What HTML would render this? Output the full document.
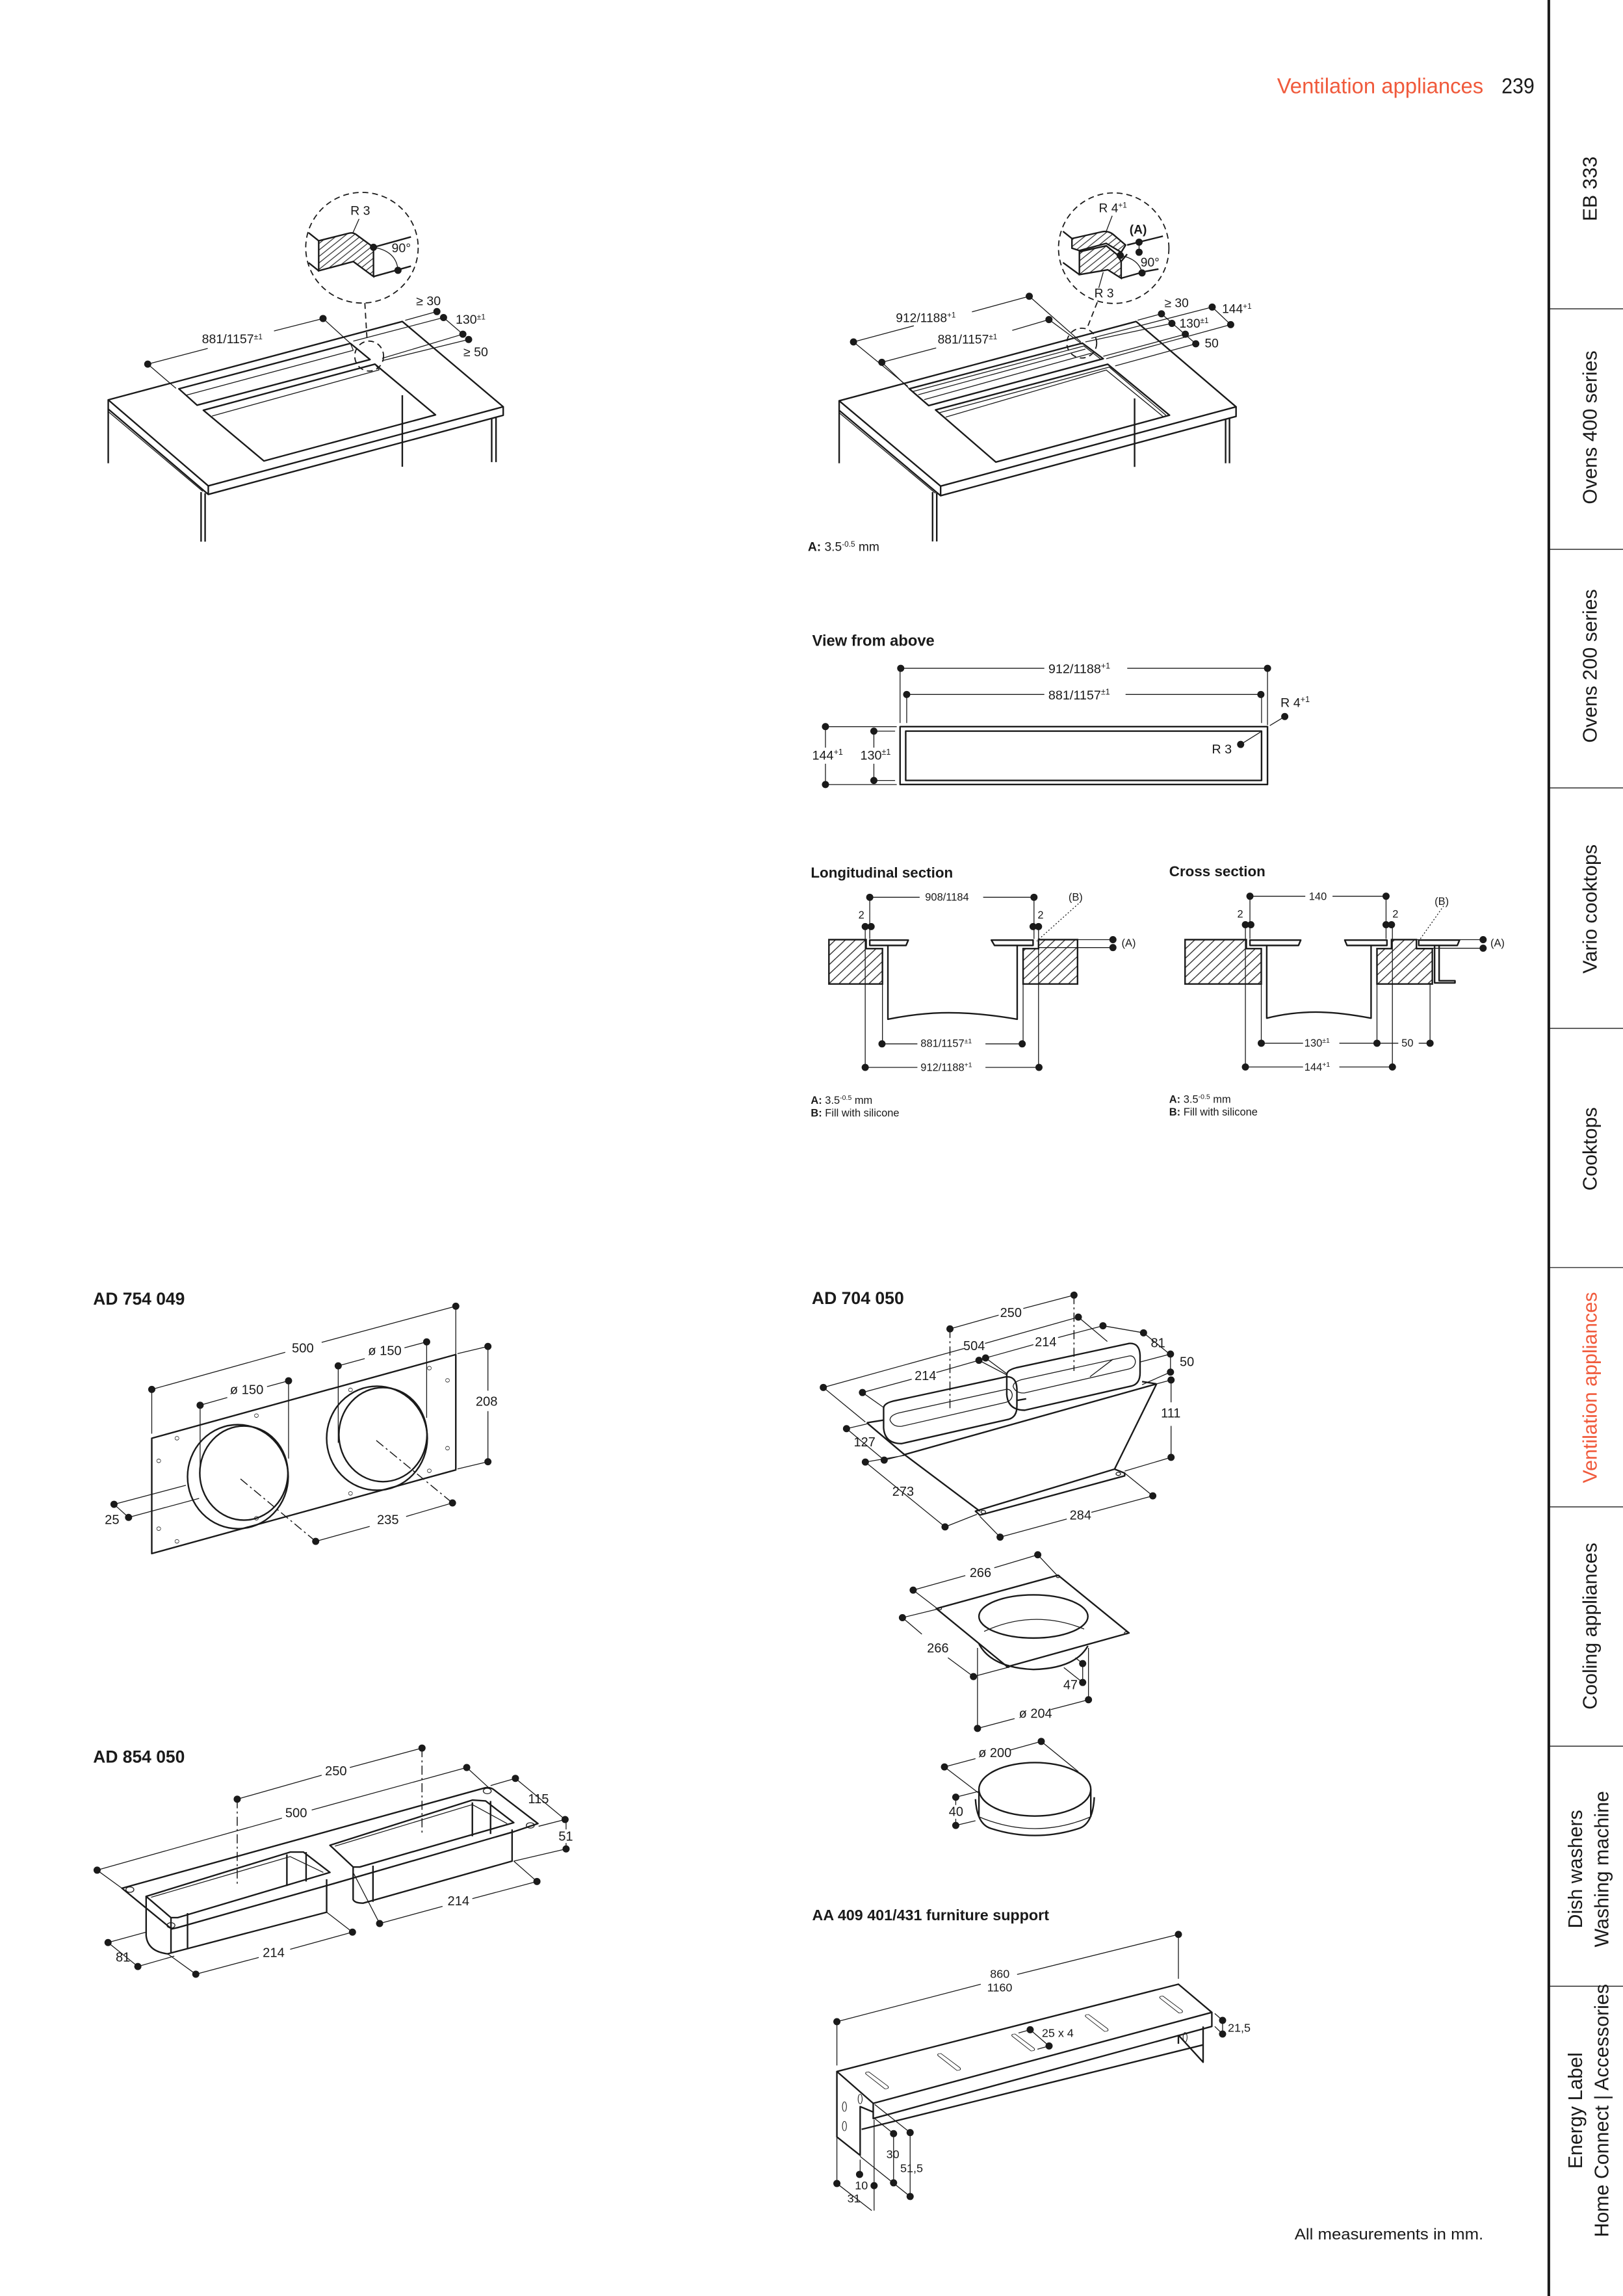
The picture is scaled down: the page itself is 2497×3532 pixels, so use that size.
<!DOCTYPE html>
<html><head><meta charset="utf-8"><style>
html,body{margin:0;padding:0;background:#fff;}
svg{display:block;}
.t,.o,.dd,.dc,.dt,.d,.h{vector-effect:non-scaling-stroke;fill:none;stroke:#1a1a1a;}
.t{stroke-width:1.3;}
.o{stroke-width:2.4;stroke-linejoin:round;}
.h{stroke-width:2.4;fill:url(#hatch);}
.hb{vector-effect:non-scaling-stroke;stroke:#1a1a1a;stroke-width:2.4;fill:url(#hatchB);}
.dd{stroke-width:1.8;stroke-dasharray:9 6;}
.dc{stroke-width:1.5;stroke-dasharray:14 5 3 5;}
.dt{stroke-width:1.3;stroke-dasharray:2 3;}
.d{stroke-width:11;stroke-linecap:round;}
.w{fill:#fff;stroke:none;}
text{font-family:"Liberation Sans",sans-serif;fill:#1a1a1a;}
.b{font-weight:bold;}
.n{font-family:"Liberation Sans Narrow","Liberation Sans",sans-serif;}
</style></head><body>
<svg width="2497" height="3532" viewBox="0 0 2497 3532" xmlns="http://www.w3.org/2000/svg">
<defs>
<pattern id="hatch" patternUnits="userSpaceOnUse" width="28" height="28"><path d="M0 28L28 0M-7 7L7 -7M21 35L35 21" stroke="#222" stroke-width="3"/></pattern>
<pattern id="hatchB" patternUnits="userSpaceOnUse" width="22" height="44"><path d="M0 44L22 0M-11 22L0 0M22 44L33 22" stroke="#222" stroke-width="2.5"/></pattern>
</defs>
<rect width="2497" height="3532" fill="#fff"/>
<g transform="scale(2.2516)">

<!-- header -->
<text x="872.6" y="63.7" font-size="15" fill="#f05a3c" style="fill:#f05a3c" textLength="141" lengthAdjust="spacingAndGlyphs">Ventilation appliances</text>
<text x="1026" y="63.7" font-size="15" textLength="22.5" lengthAdjust="spacingAndGlyphs">239</text>
<text x="884.6" y="1530" font-size="10.8" textLength="129" lengthAdjust="spacingAndGlyphs">All measurements in mm.</text>

<!-- sidebar -->
<path d="M1058.3 0V1569" stroke="#1a1a1a" stroke-width="1.8"/>
<path d="M1058.3 211H1110M1058.3 375.3H1110M1058.3 538.3H1110M1058.3 702.6H1110M1058.3 866H1110M1058.3 1029.5H1110M1058.3 1193H1110M1058.3 1357H1110" stroke="#1a1a1a" stroke-width="0.6"/>
<g class="n" font-size="13.5" text-anchor="middle">
<text transform="translate(1091,129) rotate(-90)">EB 333</text>
<text transform="translate(1091,292) rotate(-90)">Ovens 400 series</text>
<text transform="translate(1091,455) rotate(-90)">Ovens 200 series</text>
<text transform="translate(1091,621) rotate(-90)">Vario cooktops</text>
<text transform="translate(1091,785) rotate(-90)">Cooktops</text>
<text transform="translate(1091,948) rotate(-90)" style="fill:#f05a3c">Ventilation appliances</text>
<text transform="translate(1091,1111) rotate(-90)">Cooling appliances</text>
<text transform="translate(1081,1277) rotate(-90)">Dish washers</text>
<text transform="translate(1099,1277) rotate(-90)">Washing machine</text>
<text transform="translate(1081,1442) rotate(-90)">Energy Label</text>
<text transform="translate(1099,1442) rotate(-90)">Home Connect | Accessories</text>
</g>

<!-- ===== TOP LEFT countertop ===== -->
<g transform="translate(44.41,124.36) scale(0.197,0.1575)">
<path class="o" d="M150 945L1170 605L1520 975L497 1318Z"/>
<path class="o" d="M150 945V985L497 1355L1520 1012V975M497 1318V1355"/>
<path class="t" d="M152 998L478 1342"/>
<path class="o" d="M150 985V1220M472 1345V1560M486 1350V1560M1170 925V1235M1480 1025V1215M1495 1020V1215"/>
<path class="o" d="M395 897L990 700L1058 770L458 968Z"/>
<path class="t" d="M420 925L1000 730M990 700L1000 730"/>
<path class="o" d="M480 990L1075 790L1285 1010L690 1210Z"/>
<path class="t" d="M510 1015L1090 815M1075 790L1090 815"/>
<path class="t" d="M287 790L495 722M725 646L895 592M287 790L385 895M895 592L990 700"/>
<path class="t" d="M1180 600L1290 562M1000 690L1313 588M1100 765L1380 660M1100 775L1400 683M1313 588L1380 660"/>
<path class="d" d="M287 790h0M895 592h0M1290 562h0M1313 588h0M1380 660h0M1400 683h0M1070 283h0M1155 383h0"/>
<ellipse class="dd" cx="1030" cy="285" rx="195" ry="240"/>
<ellipse class="dd" cx="1055" cy="755" rx="50" ry="65"/>
<path class="dd" d="M1040 525L1048 690"/>
<path class="h" d="M880 255L985 222Q1000 218 1010 228L1070 283V410L1000 345L880 385Z"/>
<path class="o" d="M845 220L880 255M845 350L880 385M1070 283L1200 238M1070 410L1200 365"/>
<path class="t" d="M1020 160L998 222M1070 283Q1150 300 1155 383"/>
<g font-size="55">
<text transform="translate(475,700) scale(0.8,1)">881/1157<tspan font-size="34" dy="-18">±1</tspan></text>
<text transform="translate(1218,535) scale(0.8,1)">≥ 30</text>
<text transform="translate(1355,615) scale(0.8,1)">130<tspan font-size="34" dy="-18">±1</tspan></text>
<text transform="translate(1382,755) scale(0.8,1)">≥ 50</text>
<text transform="translate(990,142) scale(0.8,1)">R 3</text>
<text transform="translate(1133,305) scale(0.8,1)">90°</text>
</g>
</g>

<!-- ===== TOP RIGHT countertop ===== -->
<g transform="translate(541.8,124.4) scale(0.2039,0.1642)">
<path class="o" d="M155 910L1150 580L1485 935L495 1265Z"/>
<path class="o" d="M155 910V950L495 1305L1485 975V935M495 1265V1305"/>
<path class="t" d="M157 962L478 1295"/>
<path class="o" d="M155 950V1170M468 1290V1495M482 1295V1495M1145 900V1185M1450 985V1170M1463 980V1170"/>
<path class="o" d="M390 860L970 670L1040 735L455 930Z"/>
<path class="t" d="M400 872L975 682L1030 735M420 885L980 695M440 905L1000 712"/>
<path class="o" d="M478 948L1055 758L1262 970L680 1165Z"/>
<path class="t" d="M490 960L1060 770L1250 970M512 978L1050 782L1240 975"/>
<path class="t" d="M203 665L405 598M600 540L792 475M203 665L385 850M792 475L965 665"/>
<path class="t" d="M298 750L480 690M735 617L858 572M298 750L390 860M858 572L970 675"/>
<path class="t" d="M1155 575L1235 548M980 665L1270 588M1040 725L1315 633M1080 765L1350 673M1235 548L1350 673M1000 650L1405 520M1050 735L1467 593M1405 520L1467 593"/>
<path class="d" d="M203 665h0M792 475h0M298 750h0M858 572h0M1235 548h0M1270 588h0M1315 633h0M1350 673h0M1405 520h0M1467 593h0M1097 305h0M1160 250h0M1160 292h0M1170 378h0"/>
<ellipse class="dd" cx="1075" cy="275" rx="185" ry="230"/>
<ellipse class="dd" cx="968" cy="670" rx="50" ry="62"/>
<path class="dd" d="M1020 500L985 610"/>
<path class="h" d="M935 235L1035 207Q1060 200 1080 225L1115 262L1100 292L1050 255L960 285L935 275Z"/>
<path class="h" d="M960 290L1050 265L1085 300L1100 330V400L1055 365L960 385Z"/>
<path class="o" d="M905 205L935 235M905 335L960 385M1120 262L1240 225M1100 400L1180 372L1225 362M1100 330L1120 300"/>
<path class="t" d="M1070 140L1050 205M1040 375L1025 440M1097 305Q1160 320 1170 378M1160 250V292"/>
<g font-size="52">
<text transform="translate(345,582) scale(0.805,1)">912/1188<tspan font-size="32" dy="-18">+1</tspan></text>
<text transform="translate(485,672) scale(0.805,1)">881/1157<tspan font-size="32" dy="-18">±1</tspan></text>
<text transform="translate(1245,520) scale(0.805,1)">≥ 30</text>
<text transform="translate(1295,605) scale(0.805,1)">130<tspan font-size="32" dy="-18">±1</tspan></text>
<text transform="translate(1438,545) scale(0.805,1)">144<tspan font-size="32" dy="-18">+1</tspan></text>
<text transform="translate(1380,688) scale(0.805,1)">50</text>
<text transform="translate(1025,125) scale(0.805,1)">R 4<tspan font-size="32" dy="-18">+1</tspan></text>
<text class="b" transform="translate(1128,215) scale(0.805,1)">(A)</text>
<text transform="translate(1165,352) scale(0.805,1)">90°</text>
<text transform="translate(1010,480) scale(0.805,1)">R 3</text>
<text transform="translate(50,1535) scale(0.805,1)"><tspan class="b">A:</tspan> 3.5<tspan font-size="32" dy="-18">-0.5</tspan><tspan dy="18"> mm</tspan></text>
</g>
</g>

<!-- ===== View from above ===== -->
<g transform="translate(545.9,425.1) scale(0.2266,0.1465)">
<text class="b" font-size="72" transform="translate(40,110) scale(0.6465,1)">View from above</text>
<path class="o" d="M305 487H1413V757H305Z"/>
<path class="o" d="M322 508H1395V738H322Z"/>
<path class="t" d="M307 215H740M990 215H1413M305 215V470M1413 215V480M325 337H740M985 337H1393M325 337V470M1395 337V470"/>
<path class="t" d="M80 487H295M80 757H295M80 487V585M80 660V757M226 508H290M226 738H290M226 508V585M226 660V738"/>
<path class="t" d="M1420 482L1465 440M1332 570L1392 512"/>
<path class="d" d="M307 215h0M1413 215h0M325 337h0M1393 337h0M80 487h0M80 757h0M226 508h0M226 738h0M1465 440h0M1332 570h0"/>
<g font-size="60">
<text transform="translate(752,238) scale(0.6465,1)">912/1188<tspan font-size="38" dy="-22">+1</tspan></text>
<text transform="translate(752,360) scale(0.6465,1)">881/1157<tspan font-size="38" dy="-22">±1</tspan></text>
<text transform="translate(40,640) scale(0.6465,1)">144<tspan font-size="38" dy="-22">+1</tspan></text>
<text transform="translate(185,640) scale(0.6465,1)">130<tspan font-size="38" dy="-22">±1</tspan></text>
<text transform="translate(1452,395) scale(0.6465,1)">R 4<tspan font-size="38" dy="-22">+1</tspan></text>
<text transform="translate(1245,612) scale(0.6465,1)">R 3</text>
</g>
</g>

<!-- ===== Sections ===== -->
<g transform="translate(550.9,583.8) scale(0.310,0.1462)">
<g font-size="68" class="b">
<text transform="translate(10,108) scale(0.4716,1)">Longitudinal section</text>
<text transform="translate(800,102) scale(0.4716,1)">Cross section</text>
</g>
<path class="hb" d="M50 398H132V440H168V605H50Z"/>
<path class="hb" d="M478 440H512V398H598V605H478Z"/>
<path class="o" d="M140 400H225L220 425H140ZM408 400H500V425H415Z"/>
<path class="o" d="M180 425V770C250 740 330 720 465 770V425"/>
<path class="t" d="M140 200H250M390 200H502M140 200V395M502 200V395M130 337V1000M168 440V885M478 440V885M512 337V1000"/>
<path class="t" d="M167 885H245M395 885H476M130 995H245M395 995H513M512 398H676M512 435H676"/>
<path class="dt" d="M600 230L508 405"/>
<path class="d" d="M140 200h0M502 200h0M130 337h0M143 337h0M500 337h0M512 337h0M676 398h0M676 435h0M167 885h0M476 885h0M130 995h0M513 995h0"/>
<path class="hb" d="M835 398H970V440H1003V605H835Z"/>
<path class="hb" d="M1258 440H1290V398H1345V440H1380V605H1258Z"/>
<path class="o" d="M978 400H1090L1085 425H978ZM1187 400H1280V425H1192ZM1350 400H1440L1435 425H1350Z"/>
<path class="o" d="M1385 425V600H1430V590H1395V425"/>
<path class="o" d="M1015 425V765C1100 720 1170 735 1245 765V425"/>
<path class="t" d="M978 195H1100M1160 195H1278M978 195V395M1278 195V395M968 328V995M1003 440V885M1258 440V885M1292 328V995M1375 600V885"/>
<path class="t" d="M1003 882H1095M1175 882H1258M1258 882H1305M1350 882H1375M968 993H1095M1175 993H1292M1345 398H1492M1345 438H1492"/>
<path class="dt" d="M1405 240L1350 405"/>
<path class="d" d="M978 195h0M1278 195h0M968 328h0M980 328h0M1278 328h0M1290 328h0M1003 882h0M1258 882h0M1375 882h0M968 993h0M1292 993h0M1492 398h0M1492 438h0"/>
<g font-size="50">
<text transform="translate(262,215) scale(0.4716,1)">908/1184</text>
<text transform="translate(115,300) scale(0.4716,1)">2</text>
<text transform="translate(510,300) scale(0.4716,1)">2</text>
<text transform="translate(578,215) scale(0.4716,1)">(B)</text>
<text transform="translate(695,430) scale(0.4716,1)">(A)</text>
<text transform="translate(252,900) scale(0.4716,1)">881/1157<tspan font-size="32" dy="-18">±1</tspan></text>
<text transform="translate(252,1012) scale(0.4716,1)">912/1188<tspan font-size="32" dy="-18">+1</tspan></text>
<text transform="translate(10,1165) scale(0.4716,1)"><tspan class="b">A:</tspan> 3.5<tspan font-size="32" dy="-18">-0.5</tspan><tspan dy="18"> mm</tspan></text>
<text transform="translate(10,1225) scale(0.4716,1)"><tspan class="b">B:</tspan> Fill with silicone</text>
<text transform="translate(1108,212) scale(0.4716,1)">140</text>
<text transform="translate(950,295) scale(0.4716,1)">2</text>
<text transform="translate(1292,295) scale(0.4716,1)">2</text>
<text transform="translate(1385,235) scale(0.4716,1)">(B)</text>
<text transform="translate(1508,430) scale(0.4716,1)">(A)</text>
<text transform="translate(1098,897) scale(0.4716,1)">130<tspan font-size="32" dy="-18">±1</tspan></text>
<text transform="translate(1312,897) scale(0.4716,1)">50</text>
<text transform="translate(1098,1010) scale(0.4716,1)">144<tspan font-size="32" dy="-18">+1</tspan></text>
<text transform="translate(800,1160) scale(0.4716,1)"><tspan class="b">A:</tspan> 3.5<tspan font-size="32" dy="-18">-0.5</tspan><tspan dy="18"> mm</tspan></text>
<text transform="translate(800,1220) scale(0.4716,1)"><tspan class="b">B:</tspan> Fill with silicone</text>
</g>
</g>

<!-- ===== AD 754 049 & AD 854 050 ===== -->
<g transform="translate(44.41,868.3) scale(0.2263,0.309)">
<g class="b" font-size="38">
<text transform="translate(85,75) scale(1.365,1)">AD 754 049</text>
<text transform="translate(85,1087) scale(1.365,1)">AD 854 050</text>
</g>
<path class="o" d="M262 370L1180 185V440L262 625Z"/>
<ellipse class="o" cx="522" cy="455" rx="152" ry="115"/>
<ellipse class="o" cx="540" cy="447" rx="133" ry="104"/>
<ellipse class="o" cx="942" cy="370" rx="152" ry="115"/>
<ellipse class="o" cx="960" cy="362" rx="133" ry="104"/>
<g class="t">
<ellipse cx="338" cy="370" rx="6" ry="4"/><ellipse cx="283" cy="420" rx="6" ry="4"/><ellipse cx="283" cy="570" rx="6" ry="4"/><ellipse cx="338" cy="598" rx="6" ry="4"/><ellipse cx="578" cy="320" rx="6" ry="4"/><ellipse cx="862" cy="263" rx="6" ry="4"/><ellipse cx="1100" cy="215" rx="6" ry="4"/><ellipse cx="1155" cy="242" rx="6" ry="4"/><ellipse cx="1155" cy="392" rx="6" ry="4"/><ellipse cx="1100" cy="442" rx="6" ry="4"/><ellipse cx="862" cy="492" rx="6" ry="4"/><ellipse cx="578" cy="547" rx="6" ry="4"/>
</g>
<path class="t" d="M262 262L665 180M775 158L1180 78M262 262V360M1180 78V185M408 297L490 280M610 256L675 243M408 297V460M675 243V415M825 210L905 194M1025 170L1092 157M825 210V380M1092 157V325M1185 183L1277 167M1185 438L1277 422M1277 167V265M1277 310V422M148 516L365 474M192 545L405 503M148 516L192 545M757 598L920 565M1030 543L1170 513"/>
<path class="dc" d="M530 460L757 598M940 375L1170 513"/>
<path class="d" d="M262 262h0M1180 78h0M408 297h0M675 243h0M825 210h0M1092 157h0M1277 167h0M1277 422h0M148 516h0M192 545h0M757 598h0M1170 513h0"/>
<path class="o" d="M172 1365L1268 1143Q1285 1140 1300 1150L1428 1222L1355 1240L810 1355L340 1452L322 1455Z"/>
<path class="o" d="M245 1383L680 1285L720 1285L800 1330L340 1430L320 1430L245 1383Z"/>
<path class="t" d="M260 1385L680 1295L780 1330"/>
<path class="o" d="M245 1383V1470Q250 1505 310 1510L790 1418V1345M320 1430V1508M370 1420V1500M670 1290V1360M728 1285V1350"/>
<path class="o" d="M800 1270L1230 1170L1270 1172L1355 1220L890 1318L870 1318L800 1270Z"/>
<path class="t" d="M815 1272L1230 1180L1335 1222"/>
<path class="o" d="M870 1318V1390Q875 1398 900 1398L1350 1305V1235M930 1315V1395M1230 1175V1250M1285 1172V1245"/>
<ellipse class="t" cx="196" cy="1368" rx="12" ry="6"/><ellipse class="t" cx="320" cy="1447" rx="12" ry="6"/><ellipse class="t" cx="1275" cy="1150" rx="12" ry="6"/><ellipse class="t" cx="1405" cy="1226" rx="12" ry="6"/>
<path class="t" d="M520 1168L775 1115M860 1098L1078 1055M97 1325L655 1210M745 1192L1213 1098M97 1325L172 1365M1213 1098L1280 1143M1285 1138L1360 1122M1360 1122L1510 1213M1430 1228L1510 1213M1355 1305L1513 1278M1513 1213V1235M1513 1265V1278M950 1443L1140 1405M1230 1388L1425 1350M870 1330L950 1443M1355 1305L1425 1350M395 1555L585 1518M680 1500L868 1462M310 1510L395 1555M790 1418L868 1462M130 1485L245 1462M130 1485L220 1538M220 1538L330 1515"/>
<path class="dc" d="M520 1168V1360M1078 1055V1245"/>
<path class="d" d="M520 1168h0M1078 1055h0M97 1325h0M1213 1098h0M1360 1122h0M1510 1213h0M1513 1278h0M950 1443h0M1425 1350h0M395 1555h0M868 1462h0M130 1485h0M220 1538h0"/>
<g font-size="29">
<text transform="translate(685,180) scale(1.365,1)">500</text>
<text transform="translate(498,272) scale(1.365,1)">ø 150</text>
<text transform="translate(915,186) scale(1.365,1)">ø 150</text>
<text transform="translate(1240,298) scale(1.365,1)">208</text>
<text transform="translate(120,560) scale(1.365,1)">25</text>
<text transform="translate(942,560) scale(1.365,1)">235</text>
<text transform="translate(785,1115) scale(1.365,1)">250</text>
<text transform="translate(665,1208) scale(1.365,1)">500</text>
<text transform="translate(1398,1177) scale(1.365,1)">115</text>
<text transform="translate(1490,1260) scale(1.365,1)">51</text>
<text transform="translate(1155,1403) scale(1.365,1)">214</text>
<text transform="translate(597,1517) scale(1.365,1)">214</text>
<text transform="translate(153,1527) scale(1.365,1)">81</text>
</g>
</g>

<!-- ===== AD 704 050 ===== -->
<g transform="translate(550.7,868.2) scale(0.198,0.2684)">
<text class="b" font-size="44" transform="translate(20,85) scale(1.3556,1)">AD 704 050</text>
<path class="o" d="M210 387L340 468L1210 288M210 387L270 380M728 330L760 326M1160 282L1210 288M1210 288L1065 505M340 468L600 612M585 612L600 622L1100 522L1100 515L1065 505L585 612Z"/>
<ellipse class="t" cx="612" cy="614" rx="8" ry="4"/><ellipse class="t" cx="1078" cy="517" rx="8" ry="4"/>
<path class="o" d="M268 350L268 400Q272 440 330 440L700 378Q728 372 728 345L728 300Q726 268 690 270L300 332Q268 338 268 350Z"/>
<path class="t" d="M290 380Q300 398 330 396L690 335Q712 330 712 315Q708 300 690 302L320 362Q290 368 290 380Z"/>
<path class="o" d="M693 265L693 315Q697 355 755 355L1125 293Q1153 287 1153 260L1153 215Q1151 183 1115 185L725 247Q693 253 693 265Z"/>
<path class="t" d="M715 295Q725 313 755 311L1115 250Q1137 245 1137 230Q1133 215 1115 217L745 277Q715 283 715 295ZM980 270L1060 225"/>
<path class="t" d="M60 297L545 198M618 185L940 118M60 297L205 385M940 118L1040 180M497 148L665 113M750 96L925 62M195 310L365 276M450 259L597 228M195 310L268 348M597 228L693 265M620 222L785 188M870 170L1025 140M620 222L693 262M1025 140L1165 158M1165 158L1255 212M1155 232L1258 212M1160 290L1258 258M1258 212V258M1210 288L1260 278M1100 510L1260 475M1260 278V335M1260 395V475M140 402L210 390M140 402L270 482M270 482L345 468M205 487L340 470M205 487L480 652M480 652L590 620M670 678L600 625M670 678L900 632M985 615L1197 573M1197 573L1100 515"/>
<path class="dc" d="M497 148V350M925 62V255"/>
<path class="d" d="M60 297h0M940 118h0M497 148h0M925 62h0M195 310h0M597 228h0M620 222h0M1025 140h0M1165 158h0M1258 212h0M1258 258h0M1260 278h0M1260 475h0M140 402h0M270 482h0M205 487h0M480 652h0M670 678h0M1197 573h0"/>
<path class="o" d="M450 860L870 775L1115 922L695 1008Z"/>
<ellipse class="t" cx="462" cy="860" rx="6" ry="3"/><ellipse class="t" cx="870" cy="778" rx="6" ry="3"/><ellipse class="t" cx="1105" cy="922" rx="6" ry="3"/><ellipse class="t" cx="697" cy="1007" rx="6" ry="3"/>
<ellipse class="o" cx="785" cy="880" rx="188" ry="55"/>
<path class="t" d="M615 918Q785 860 960 912"/>
<path class="o" d="M597 950Q640 1010 785 1015Q930 1012 973 955"/>
<path class="t" d="M370 813L550 776M650 756L800 723M370 813L450 858M800 723L870 778M333 883L450 862M333 883L400 925M490 985L578 1033M578 1033L695 1010M955 1000V1048M890 1010L955 1048M930 985L955 1000M592 960V1165M975 960V1092M592 1165L720 1140M845 1117L975 1092"/>
<path class="d" d="M370 813h0M800 723h0M333 883h0M578 1033h0M955 1000h0M955 1048h0M592 1165h0M975 1092h0"/>
<ellipse class="o" cx="790" cy="1320" rx="193" ry="68"/>
<path class="o" d="M597 1320V1390M983 1320V1390"/>
<path class="t" d="M597 1390Q790 1450 983 1390"/>
<path class="o" d="M585 1345Q590 1410 640 1420Q790 1455 940 1420Q990 1410 995 1340"/>
<path class="t" d="M478 1263L585 1242M705 1220L812 1198M478 1263L597 1330M812 1198L940 1275M517 1340L597 1325M517 1412L585 1400M517 1340V1360M517 1395V1412"/>
<path class="d" d="M478 1263h0M812 1198h0M517 1340h0M517 1412h0"/>
<g font-size="33">
<text transform="translate(670,118) scale(1.3556,1)">250</text>
<text transform="translate(543,202) scale(1.3556,1)">504</text>
<text transform="translate(375,278) scale(1.3556,1)">214</text>
<text transform="translate(790,192) scale(1.3556,1)">214</text>
<text transform="translate(1190,195) scale(1.3556,1)">81</text>
<text transform="translate(1290,243) scale(1.3556,1)">50</text>
<text transform="translate(1225,373) scale(1.3556,1)">111</text>
<text transform="translate(165,447) scale(1.3556,1)">127</text>
<text transform="translate(298,573) scale(1.3556,1)">273</text>
<text transform="translate(910,633) scale(1.3556,1)">284</text>
<text transform="translate(565,780) scale(1.3556,1)">266</text>
<text transform="translate(418,972) scale(1.3556,1)">266</text>
<text transform="translate(888,1065) scale(1.3556,1)">47</text>
<text transform="translate(735,1138) scale(1.3556,1)">ø 204</text>
<text transform="translate(595,1238) scale(1.3556,1)">ø 200</text>
<text transform="translate(493,1388) scale(1.3556,1)">40</text>
</g>
</g>

<!-- ===== AA 409 furniture support ===== -->
<g transform="translate(550,1288.3) scale(0.1986,0.148)">
<text class="b" font-size="70" transform="translate(25,160) scale(0.745,1)">AA 409 401/431 furniture support</text>
<path class="o" d="M110 858L1285 455L1400 585L235 1005Z"/>
<path class="o" d="M235 1005V1075L1400 650V585M110 858V1160L190 1245V1020L235 1045"/>
<path class="o" d="M195 1125L1370 735M1285 690L1370 815V650M1285 690V730"/>
<g class="o">
<ellipse cx="136" cy="1020" rx="7" ry="22"/><ellipse cx="136" cy="1110" rx="7" ry="22"/><ellipse cx="190" cy="985" rx="7" ry="22"/><ellipse cx="1308" cy="700" rx="7" ry="22"/>
<path d="M210 870Q205 860 220 860L285 925Q292 938 275 938Z"/>
<path d="M458 785Q453 775 468 775L533 840Q540 853 523 853Z"/>
<path d="M713 695Q708 685 723 685L788 750Q795 763 778 763Z"/>
<path d="M966 605Q961 595 976 595L1041 660Q1048 673 1031 673Z"/>
<path d="M1222 520Q1217 510 1232 510L1297 575Q1304 588 1287 588Z"/>
</g>
<path class="t" d="M110 628L605 455M730 410L1285 225M110 628V830M1285 225V430M735 680L775 665M800 755L840 740M775 665L840 740M1410 590L1437 622M1410 650L1437 685M1437 622V685M240 1010L362 1140M240 1075L305 1145M362 1140V1435M305 1145V1372M190 1250L362 1435M190 1265V1333M238 1080V1500M110 1160V1375M110 1375L230 1500"/>
<path class="d" d="M110 628h0M1285 225h0M775 665h0M840 740h0M1437 622h0M1437 685h0M305 1145h0M305 1372h0M362 1140h0M362 1435h0M188 1333h0M238 1385h0M110 1375h0"/>
<g font-size="54">
<text transform="translate(637,425) scale(0.745,1)">860</text>
<text transform="translate(627,488) scale(0.745,1)">1160</text>
<text transform="translate(815,698) scale(0.745,1)">25 x 4</text>
<text transform="translate(1455,675) scale(0.745,1)">21,5</text>
<text transform="translate(280,1258) scale(0.745,1)">30</text>
<text transform="translate(328,1322) scale(0.745,1)">51,5</text>
<text transform="translate(172,1402) scale(0.745,1)">10</text>
<text transform="translate(146,1462) scale(0.745,1)">31</text>
</g>
</g>

</g>
</svg>
</body></html>
